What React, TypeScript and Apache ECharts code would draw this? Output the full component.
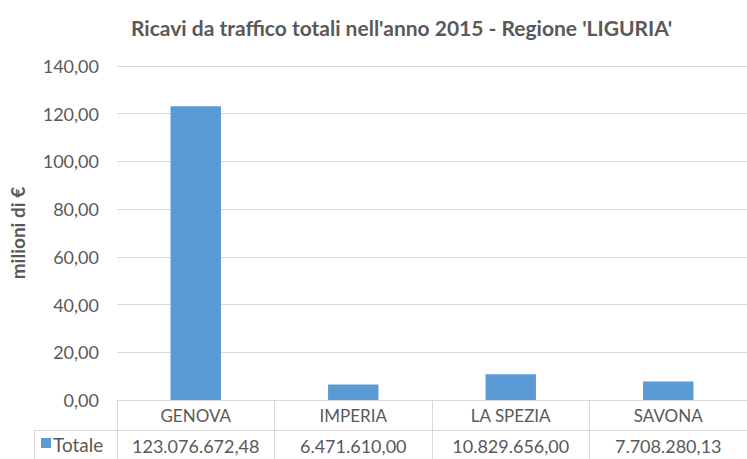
import React, { useEffect, useRef } from "react";
import * as echarts from "echarts";

const title = "Ricavi da traffico totali nell'anno 2015 - Regione 'LIGURIA'";
const categories = ["GENOVA", "IMPERIA", "LA SPEZIA", "SAVONA"];
const totaleEuro = [123076672.48, 6471610.0, 10829656.0, 7708280.13];
const seriesName = "Totale";
const yAxisName = "milioni di €";

const fmtIt = (v: number, dec: number) => {
  const fixed = v.toFixed(dec);
  const [intPart, decPart] = fixed.split(".");
  const withDots = intPart.replace(/\B(?=(\d{3})+(?!\d))/g, ".");
  return decPart ? withDots + "," + decPart : withDots;
};

const FONT = "Lato";
const GRAY = "#595959";
const LINE = "#d9d9d9";
const BLUE = "#5B9BD5";

export default function App() {
  const ref = useRef<HTMLDivElement>(null);
  useEffect(() => {
    if (!ref.current) return;
    const chart = echarts.init(ref.current, null, { renderer: "svg" });
    const millions = totaleEuro.map((v) => v / 1e6);
    chart.setOption({
      animation: false,
      title: {
        text: title,
        left: 126,
        top: 12,
        textStyle: { fontFamily: FONT, fontSize: 21, fontWeight: "bold", color: GRAY },
      },
      grid: { left: 115, top: 66, width: 641, height: 334, containLabel: false },
      xAxis: [
        {
          type: "category",
          data: categories,
          position: "bottom",
          axisLine: { show: true, lineStyle: { color: LINE } },
          axisTick: { show: true, length: 59, inside: false, lineStyle: { color: LINE } },
          axisLabel: { interval: 0, color: GRAY, fontFamily: FONT, fontSize: 17, margin: 7 },
        },
        {
          type: "category",
          data: categories,
          position: "bottom",
          offset: 30,
          axisLine: { show: false },
          axisTick: { show: false },
          axisLabel: {
            interval: 0,
            hideOverlap: false,
            color: GRAY,
            fontFamily: FONT,
            fontSize: 18,
            margin: 7,
            formatter: (_v: string, i: number) => fmtIt(totaleEuro[i], 2),
          },
        },
      ],
      yAxis: {
        type: "value",
        min: 0,
        max: 140,
        interval: 20,
        name: yAxisName,
        nameLocation: "middle",
        nameGap: 90,
        nameTextStyle: { color: GRAY, fontFamily: FONT, fontSize: 19, fontWeight: "bold" },
        axisLine: { show: false },
        axisTick: { show: false },
        splitLine: { lineStyle: { color: LINE } },
        axisLabel: {
          color: GRAY,
          fontFamily: FONT,
          fontSize: 18,
          margin: 18,
          formatter: (v: number) => fmtIt(v, 2),
        },
      },
      series: [
        {
          name: seriesName,
          type: "bar",
          xAxisIndex: 0,
          data: millions,
          barWidth: "32%",
          itemStyle: { color: BLUE },
        },
      ],
      graphic: [
        { type: "line", shape: { x1: 34, y1: 430.5, x2: 747, y2: 430.5 }, style: { stroke: LINE, lineWidth: 1 } },
        { type: "line", shape: { x1: 34.5, y1: 430, x2: 34.5, y2: 459 }, style: { stroke: LINE, lineWidth: 1 } },
        { type: "rect", shape: { x: 41, y: 438, width: 10, height: 10 }, style: { fill: BLUE } },
        {
          type: "text",
          x: 53,
          y: 444,
          style: { text: seriesName, fill: GRAY, font: `19px ${FONT}`, textVerticalAlign: "middle" },
        },
      ],
    });
    return () => chart.dispose();
  }, []);
  return (
    <div
      ref={ref}
      style={{ position: "absolute", left: 0, top: 0, width: 747, height: 459 }}
    />
  );
}
